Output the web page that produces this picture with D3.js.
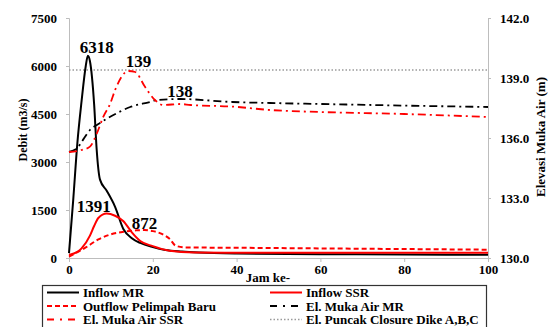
<!DOCTYPE html>
<html lang="en">
<head>
    <meta charset="UTF-8">
    <title>Debit dan Elevasi Muka Air</title>
    <style>
        body { margin: 0; background: #fff; }
        svg { display: block; }
    </style>
</head>
<body>
<svg></svg>
<script src="https://cdn.jsdelivr.net/npm/d3@7"></script>
<script>
    // jam ke- / debit (m3/s)
    const jamInflowMR = [0, 1, 2, 3, 4, 4.5, 5, 6, 6.6, 7.4, 9, 11, 13, 15, 17, 20, 23, 27, 31, 40, 60, 80, 100];
    const inflowMR = [150, 1800, 3600, 4900, 6000, 6318, 6150, 4800, 3400, 2450, 2100, 1600, 900, 620, 470, 340, 250, 200, 170, 140, 120, 110, 100];

    const jamInflowSSR = [0, 2, 3, 5, 6, 7, 9, 11, 13, 15, 17, 20, 24, 30, 40, 60, 80, 100];
    const inflowSSR = [95, 190, 300, 700, 1000, 1250, 1391, 1320, 1150, 800, 530, 370, 230, 175, 165, 165, 165, 165];

    const jamOutflow = [0, 2, 4, 7, 10, 13, 16, 18, 20, 22, 24, 25.5, 28, 40, 60, 80, 100];
    const outflowBaru = [40, 180, 330, 580, 740, 820, 865, 872, 840, 760, 600, 380, 330, 320, 300, 280, 260];

    // jam ke- / elevasi (m)
    const jamElMR = [0, 2, 3, 5, 7, 10.6, 14.6, 19.3, 21, 26.5, 39, 48, 60, 80, 100];
    const elMR = [135.3, 135.5, 135.8, 136.4, 136.7, 137.15, 137.55, 137.8, 137.9, 137.95, 137.8, 137.75, 137.7, 137.62, 137.55];

    const jamElSSR = [0, 3, 5, 6.6, 8.2, 9.8, 11, 14.2, 15.8, 18.1, 20.5, 22.5, 26.5, 29, 39, 48, 60, 80, 100];
    const elSSR = [135.3, 135.4, 135.57, 136.2, 137.07, 137.7, 138.4, 139.35, 139.3, 138.57, 137.9, 137.65, 137.7, 137.65, 137.57, 137.4, 137.3, 137.2, 137.05];

    const elPuncak = 139.4;

    const xTicks = [0, 20, 40, 60, 80, 100];
    const debitTicks = [0, 1500, 3000, 4500, 6000, 7500];
    const elevTicks = [130, 133, 136, 139, 142];

    const puncakLabels = [
        {jam: 4.5, v: 6318, axis: "L", text: "6318", dx: 9, dy: -3},
        {jam: 9, v: 1391, axis: "L", text: "1391", dx: -13, dy: -1},
        {jam: 18, v: 872, axis: "L", text: "872", dx: 0, dy: -1},
        {jam: 14.2, v: 139.35, axis: "R", text: "139", dx: 10, dy: -4},
        {jam: 26.5, v: 137.95, axis: "R", text: "138", dx: 0, dy: -2}
    ];

    let width = 548,
        height = 327;

    const font = "'Liberation Serif', 'Times New Roman', serif";

    const x = d3.scaleLinear().domain([0, 100]).range([69, 488]);
    const yL = d3.scaleLinear().domain([0, 7500]).range([258, 18]);
    const yR = d3.scaleLinear().domain([130, 142]).range([258, 18]);

    const svg = d3.select("svg")
        .attr("width", width)
        .attr("height", height)
        .style("font-family", font)
        .style("font-weight", "bold");

    // axes
    const gx = svg.append("g")
        .attr("transform", `translate(0,${yL(0)})`)
        .call(d3.axisBottom(x).tickValues(xTicks).tickSize(4).tickPadding(3));
    const gl = svg.append("g")
        .attr("transform", `translate(${x(0)},0)`)
        .call(d3.axisLeft(yL).tickValues(debitTicks).tickFormat(d3.format("d")).tickSize(3).tickPadding(9));
    const gr = svg.append("g")
        .attr("transform", `translate(${x(100)},0)`)
        .call(d3.axisRight(yR).tickValues(elevTicks).tickFormat(d3.format(".1f")).tickSize(3).tickPadding(9));

    [gx, gl, gr].forEach(g => {
        g.attr("font-family", null);
        g.selectAll("path,line").attr("stroke", "#bdbdbd");
        g.selectAll("text")
            .attr("fill", "#000")
            .style("font-family", font)
            .style("font-weight", "bold")
            .style("font-size", "13px");
    });

    svg.append("text")
        .attr("transform", `translate(27,130) rotate(-90)`)
        .attr("text-anchor", "middle")
        .style("font-size", "12px")
        .text("Debit (m3/s)");

    svg.append("text")
        .attr("transform", `translate(545,137) rotate(-90)`)
        .attr("text-anchor", "middle")
        .style("font-size", "13px")
        .text("Elevasi Muka Air (m)");

    svg.append("text")
        .attr("x", 268)
        .attr("y", 282)
        .attr("text-anchor", "middle")
        .style("font-size", "13px")
        .text("Jam ke-");

    // series
    const series = [
        {name: "El. Puncak Closure Dike A,B,C", jam: [0, 100], v: [elPuncak, elPuncak], y: yR, color: "#9a9a9a", w: 1.3, dash: "1.5,2"},
        {name: "Inflow MR", jam: jamInflowMR, v: inflowMR, y: yL, color: "#000", w: 2, dash: null},
        {name: "Inflow SSR", jam: jamInflowSSR, v: inflowSSR, y: yL, color: "#ff0000", w: 2, dash: null},
        {name: "Outflow Pelimpah Baru", jam: jamOutflow, v: outflowBaru, y: yL, color: "#ff0000", w: 2, dash: "5,3"},
        {name: "El. Muka Air MR", jam: jamElMR, v: elMR, y: yR, color: "#000", w: 1.8, dash: "8,4,2,4"},
        {name: "El. Muka Air SSR", jam: jamElSSR, v: elSSR, y: yR, color: "#ff0000", w: 1.8, dash: "8,4,2,4"}
    ];

    svg.append("g")
        .attr("fill", "none")
        .selectAll("path")
        .data(series)
        .enter().append("path")
        .attr("stroke", d => d.color)
        .attr("stroke-width", d => d.w)
        .attr("stroke-dasharray", d => d.dash)
        .attr("d", d => d3.line()
            .curve(d3.curveMonotoneX)
            .x((_, i) => x(d.jam[i]))
            .y(v => d.y(v))(d.v));

    svg.append("g")
        .attr("text-anchor", "middle")
        .style("font-size", "17px")
        .selectAll("text")
        .data(puncakLabels)
        .enter().append("text")
        .attr("x", d => x(d.jam) + d.dx)
        .attr("y", d => (d.axis === "L" ? yL(d.v) : yR(d.v)) + d.dy)
        .text(d => d.text);

    // legend
    const legend = svg.append("g");
    legend.append("rect")
        .attr("x", 42.5)
        .attr("y", 285.5)
        .attr("width", 444)
        .attr("height", 50)
        .attr("fill", "#fff")
        .attr("stroke", "#333")
        .attr("stroke-width", 1.2);

    const legendOrder = ["Inflow MR", "Inflow SSR", "Outflow Pelimpah Baru", "El. Muka Air MR", "El. Muka Air SSR", "El. Puncak Closure Dike A,B,C"];
    const item = legend.selectAll("g.item")
        .data(legendOrder.map(n => series.find(s => s.name === n)))
        .enter().append("g")
        .attr("class", "item")
        .attr("transform", (d, i) => `translate(${i % 2 ? 270 : 47},${292.5 + Math.floor(i / 2) * 13.5})`);

    item.append("line")
        .attr("x1", 0)
        .attr("x2", 32)
        .attr("stroke", d => d.color)
        .attr("stroke-width", d => d.w)
        .attr("stroke-dasharray", d => d.dash ? (d.dash === "8,4,2,4" ? "7,6,2,6" : d.dash) : null);

    item.append("text")
        .attr("x", 36)
        .attr("dy", "0.35em")
        .style("font-size", "13px")
        .text(d => d.name);
</script>
</body>
</html>
